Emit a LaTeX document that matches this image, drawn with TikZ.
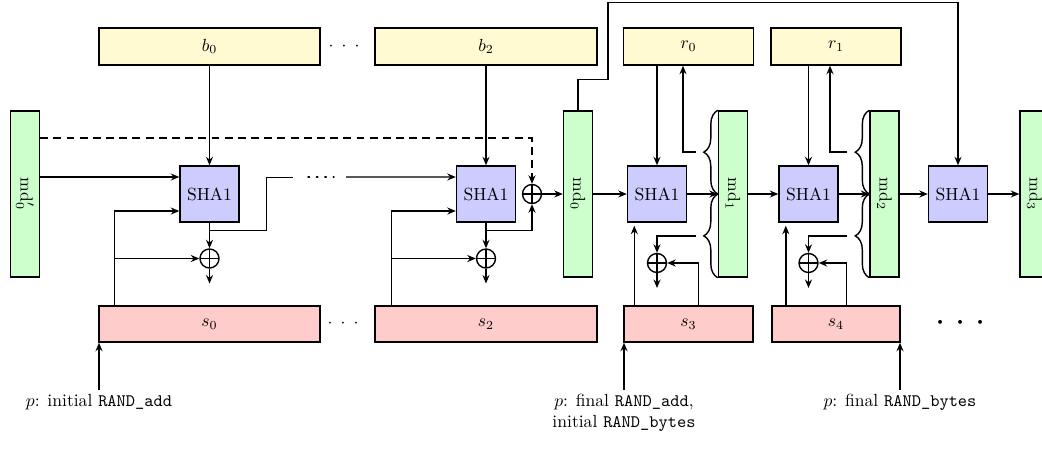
\documentclass[tikz,border=0pt]{standalone}
\usepackage{tikz}
\usetikzlibrary{positioning,arrows.meta,calc,decorations.pathreplacing}
\definecolor{inblk}{RGB}{255,250,210}
\definecolor{stblk}{RGB}{255,204,204}
\definecolor{mdblk}{RGB}{204,255,204}
\definecolor{hashblk}{RGB}{204,204,255}

\begin{document}
\begin{tikzpicture}[
  inp/.style={draw, thick, fill=inblk, minimum height=7.4mm, inner sep=2pt},
  st/.style={draw, thick, fill=stblk, minimum height=7.2mm, inner sep=2pt},
  md/.style={draw, thick, fill=mdblk, minimum width=5.8mm, minimum height=33.2mm, inner sep=0pt},
  hash/.style={draw, thick, fill=hashblk, minimum width=11.8mm, minimum height=11.2mm, inner sep=0pt},
  xor/.style={circle, draw, thick, minimum size=3.8mm, inner sep=0pt,
              path picture={\draw[thick] (path picture bounding box.north) -- (path picture bounding box.south)
                                         (path picture bounding box.west) -- (path picture bounding box.east);}},
  ar/.style={-{Stealth[length=1.7mm,width=1.4mm]}, thick},
  dar/.style={ar, dash pattern=on 4.5pt off 3pt},
  brc/.style={decorate, decoration={brace, amplitude=2.8mm}, thick},
  lab/.style={anchor=north, align=center, inner sep=2pt},
]

\useasboundingbox (0,0) rectangle (20.84,-9.02);

% input blocks
\node[inp, minimum width=44.2mm] (b0) at (4.19,-0.93) {$b_0$};
\node[inp, minimum width=44.4mm] (b2) at (9.72,-0.93) {$b_2$};
\node[inp, minimum width=26mm]   (r0) at (13.77,-0.93) {$r_0$};
\node[inp, minimum width=26mm]   (r1) at (16.72,-0.93) {$r_1$};
\node (bdots) at (6.88,-0.93) {${\cdot}\hspace{4.6pt}{\cdot}\hspace{4.6pt}{\cdot}$};

% message digests
\node[md] (mdp) at (0.5,-3.88)   {\rotatebox{-90}{md$'_0$}};
\node[md] (md0) at (11.56,-3.88) {\rotatebox{-90}{md$_0$}};
\node[md] (md1) at (14.66,-3.88) {\rotatebox{-90}{md$_1$}};
\node[md] (md2) at (17.69,-3.88) {\rotatebox{-90}{md$_2$}};
\node[md] (md3) at (20.69,-3.88) {\rotatebox{-90}{md$_3$}};

% hashing
\node[hash] (shaA) at (4.19,-3.88)  {SHA1};
\node[hash] (shaB) at (9.72,-3.88)  {SHA1};
\node[hash] (shaC) at (13.14,-3.88) {SHA1};
\node[hash] (shaD) at (16.17,-3.88) {SHA1};
\node[hash] (shaE) at (19.16,-3.88) {SHA1};

\node[xor] (xa) at (4.19,-5.17)  {};
\node[xor] (xb) at (9.72,-5.17)  {};
\node[xor] (xu) at (10.64,-3.88) {};
\node[xor] (xc) at (13.14,-5.26) {};
\node[xor] (xd) at (16.17,-5.26) {};

% state blocks
\node[st, minimum width=44.2mm] (s0) at (4.19,-6.48)  {$s_0$};
\node[st, minimum width=44.4mm] (s2) at (9.72,-6.48)  {$s_2$};
\node[st, minimum width=25.8mm] (s3) at (13.77,-6.48) {$s_3$};
\node[st, minimum width=25.6mm] (s4) at (16.72,-6.48) {$s_4$};
\node (sdots) at (6.86,-6.48) {${\cdot}\hspace{4.6pt}{\cdot}\hspace{4.6pt}{\cdot}$};
\node (edots) at (19.22,-6.46) {\huge ${\cdot}\hspace{5.6pt}{\cdot}\hspace{5.6pt}{\cdot}$};

% positions of p
\node[lab] (p0) at (1.98,-7.8)  {$p$: initial \texttt{RAND\_add}};
\node[lab] (p1) at (12.48,-7.8) {$p$: final \texttt{RAND\_add},\\initial \texttt{RAND\_bytes}};
\node[lab] (p2) at (18.0,-7.8)  {$p$: final \texttt{RAND\_bytes}};

\draw[ar] (p0.north) -- (p0.north |- s0.south);
\draw[ar] (p1.north) -- (p1.north |- s3.south);
\draw[ar] (p2.north) -- (p2.north |- s4.south);

% first block
\draw[ar] (b0) -- (shaA);
\draw[ar] ([yshift=3.4mm]mdp.east) -- ([yshift=3.4mm]shaA.west);
\draw[dar] ([yshift=11.2mm]mdp.east) -| (xu.north);
\draw[ar] ([xshift=3.2mm]s0.north west) |- ([yshift=-3.4mm]shaA.west);
\draw[ar] ([xshift=3.2mm]s0.north west) |- (xa.west);
\draw[ar] (shaA) -- (xa);
\draw[ar] (xa) -- ++(0,-0.5);
\draw ([yshift=-1.6mm]shaA.south) -| ([xshift=5.4mm,yshift=3.4mm]shaA.east) -- ++(0.52,0);
\coordinate (gapL) at (6.16,-3.54);
\coordinate (gapR) at (6.92,-3.54);
\draw[thick, loosely dotted, line cap=round] (gapL) -- ++(0.52,0);
\draw[ar] (gapR) -- ([yshift=3.4mm]shaB.west);

% last block of RAND_add
\draw[ar] (b2) -- (shaB);
\draw[ar] ([xshift=3.4mm]s2.north west) |- ([yshift=-3.4mm]shaB.west);
\draw[ar] ([xshift=3.4mm]s2.north west) |- (xb.west);
\draw[ar] (shaB) -- (xb);
\draw[ar] (xb) -- ++(0,-0.5);
\draw[ar] ([yshift=-1.6mm]shaB.south) -| (xu.south);
\draw[ar] (xu) -- (md0);
\draw[ar] (md0) -- (shaC);
\draw[ar] (md0.north) -- ++(0,0.62) -| ++(0.6,1.54) -| (shaE.north);

% RAND_bytes, first output
\draw[ar] (shaC.north |- r0.south) -- (shaC);
\draw[brc] (md1.west) -- (md1.north west);
\draw[brc] (md1.south west) -- (md1.west);
\draw[ar] ($(md1.west)!.5!(md1.north west)+(-0.44,0)$) -| ([xshift=-1.1mm]r0.south);
\draw[ar] ($(md1.west)!.5!(md1.south west)+(-0.44,0)$) -| (xc.north);
\draw[ar] (shaC) -- (md1.west);
\draw[ar] ($(shaC.south west |- s3.north)+(0.15,0)$) -- ($(shaC.south west)+(0.15,-0.06)$);
\draw[ar] ([xshift=15mm]s3.north west) |- (xc.east);
\draw[ar] (xc) -- ++(0,-0.5);
\draw[ar] (md1) -- (shaD);

% RAND_bytes, second output
\draw[ar] (shaD.north |- r1.south) -- (shaD);
\draw[brc] (md2.west) -- (md2.north west);
\draw[brc] (md2.south west) -- (md2.west);
\draw[ar] ($(md2.west)!.5!(md2.north west)+(-0.44,0)$) -| ([xshift=-1.2mm]r1.south);
\draw[ar] ($(md2.west)!.5!(md2.south west)+(-0.44,0)$) -| (xd.north);
\draw[ar] (shaD) -- (md2.west);
\draw[ar] ($(shaD.south west |- s4.north)+(0.15,0)$) -- ($(shaD.south west)+(0.15,-0.06)$);
\draw[ar] ([xshift=15mm]s4.north west) |- (xd.east);
\draw[ar] (xd) -- ++(0,-0.5);
\draw[ar] (md2) -- (shaE);

\draw[ar] (shaE) -- (md3);

\end{tikzpicture}
\end{document}
